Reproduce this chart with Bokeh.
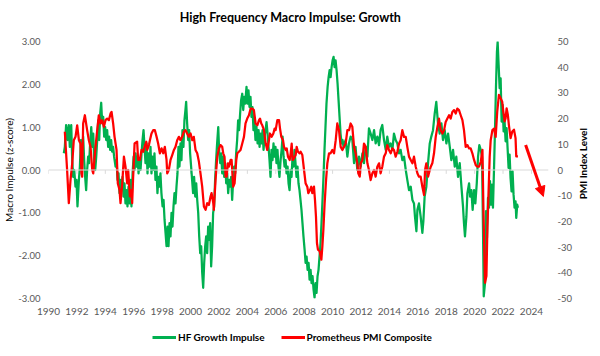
import math
from bokeh.plotting import figure
from bokeh.layouts import column, row
from bokeh.models import (Range1d, LinearAxis, FixedTicker, NumeralTickFormatter, Span,
                          Legend, LegendItem, Arrow, NormalHead, Label)
from bokeh.embed import file_html
from bokeh.resources import INLINE

# ---------------- data ----------------
title_text = "High Frequency Macro Impulse: Growth"
left_axis_title = "Macro Impulse (z-score)"
right_axis_title = "PMI Index Level"
series_names = ["HF Growth Impulse", "Prometheus PMI Composite"]
x_tick_years = [1990, 1992, 1994, 1996, 1998, 2000, 2002, 2004, 2006, 2008, 2010,
                2012, 2014, 2016, 2018, 2020, 2022, 2024]
left_ticks = [-3, -2, -1, 0, 1, 2, 3]
right_ticks = [-50, -40, -30, -20, -10, 0, 10, 20, 30, 40, 50]

hf_years = [
    1991.08, 1991.15, 1991.24, 1991.34, 1991.43, 1991.5, 1991.6, 1991.67, 1991.74, 1991.81,
    1991.9, 1991.97, 1992.04, 1992.14, 1992.21, 1992.28, 1992.37, 1992.44, 1992.51, 1992.58,
    1992.65, 1992.72, 1992.79, 1992.86, 1992.93, 1993.01, 1993.08, 1993.15, 1993.22, 1993.29,
    1993.36, 1993.43, 1993.5, 1993.57, 1993.64, 1993.71, 1993.78, 1993.85, 1993.92, 1993.99,
    1994.06, 1994.13, 1994.2, 1994.27, 1994.34, 1994.41, 1994.48, 1994.55, 1994.62, 1994.72,
    1994.79, 1994.86, 1994.93, 1995.0, 1995.07, 1995.14, 1995.21, 1995.28, 1995.35, 1995.42,
    1995.49, 1995.56, 1995.63, 1995.71, 1995.77, 1995.84, 1995.92, 1995.99, 1996.06, 1996.13,
    1996.2, 1996.27, 1996.34, 1996.41, 1996.48, 1996.55, 1996.62, 1996.69, 1996.76, 1996.83,
    1996.9, 1996.97, 1997.04, 1997.11, 1997.18, 1997.25, 1997.32, 1997.39, 1997.46, 1997.53,
    1997.6, 1997.67, 1997.74, 1997.81, 1997.88, 1997.95, 1998.03, 1998.1, 1998.17, 1998.24,
    1998.31, 1998.38, 1998.45, 1998.52, 1998.59, 1998.66, 1998.73, 1998.8, 1998.87, 1998.94,
    1999.01, 1999.08, 1999.15, 1999.22, 1999.29, 1999.36, 1999.43, 1999.5, 1999.57, 1999.64,
    1999.69, 1999.76, 1999.83, 1999.9, 1999.97, 2000.04, 2000.11, 2000.18, 2000.25, 2000.33,
    2000.4, 2000.47, 2000.54, 2000.61, 2000.68, 2000.75, 2000.82, 2000.89, 2000.96, 2001.03,
    2001.1, 2001.17, 2001.24, 2001.31, 2001.38, 2001.45, 2001.52, 2001.59, 2001.66, 2001.73,
    2001.8, 2001.87, 2001.95, 2002.02, 2002.09, 2002.16, 2002.23, 2002.3, 2002.37, 2002.44,
    2002.51, 2002.58, 2002.65, 2002.72, 2002.79, 2002.86, 2002.93, 2003.0, 2003.07, 2003.14,
    2003.21, 2003.28, 2003.35, 2003.42, 2003.49, 2003.56, 2003.64, 2003.71, 2003.78, 2003.85,
    2003.94, 2004.01, 2004.08, 2004.15, 2004.22, 2004.29, 2004.36, 2004.43, 2004.5, 2004.57,
    2004.64, 2004.72, 2004.79, 2004.86, 2004.93, 2005.0, 2005.07, 2005.14, 2005.21, 2005.28,
    2005.35, 2005.42, 2005.49, 2005.56, 2005.63, 2005.7, 2005.77, 2005.84, 2005.91, 2005.98,
    2006.05, 2006.12, 2006.19, 2006.26, 2006.34, 2006.41, 2006.48, 2006.55, 2006.62, 2006.69,
    2006.76, 2006.83, 2006.9, 2006.97, 2007.04, 2007.11, 2007.18, 2007.25, 2007.32, 2007.39,
    2007.46, 2007.53, 2007.6, 2007.67, 2007.74, 2007.81, 2007.88, 2007.95, 2008.03, 2008.1,
    2008.17, 2008.24, 2008.31, 2008.38, 2008.45, 2008.52, 2008.59, 2008.66, 2008.73, 2008.8,
    2008.87, 2008.94, 2009.01, 2009.08, 2009.15, 2009.22, 2009.29, 2009.36, 2009.43, 2009.5,
    2009.57, 2009.65, 2009.72, 2009.79, 2009.86, 2009.93, 2010.0, 2010.07, 2010.14, 2010.21,
    2010.28, 2010.35, 2010.42, 2010.49, 2010.56, 2010.63, 2010.7, 2010.77, 2010.84, 2010.92,
    2011.04, 2011.15, 2011.27, 2011.39, 2011.51, 2011.62, 2011.74, 2011.86, 2011.98, 2012.1,
    2012.21, 2012.33, 2012.45, 2012.56, 2012.68, 2012.8, 2012.92, 2013.03, 2013.15, 2013.27,
    2013.38, 2013.5, 2013.62, 2013.74, 2013.85, 2013.97, 2014.09, 2014.21, 2014.32, 2014.44,
    2014.56, 2014.68, 2014.79, 2014.91, 2015.03, 2015.15, 2015.26, 2015.38, 2015.5, 2015.62,
    2015.73, 2015.8, 2015.9, 2015.97, 2016.08, 2016.2, 2016.32, 2016.39, 2016.48, 2016.6,
    2016.72, 2016.84, 2016.95, 2017.07, 2017.19, 2017.3, 2017.42, 2017.54, 2017.66, 2017.77,
    2017.89, 2018.01, 2018.13, 2018.25, 2018.36, 2018.48, 2018.6, 2018.71, 2018.83, 2018.95,
    2019.07, 2019.18, 2019.25, 2019.32, 2019.42, 2019.49, 2019.61, 2019.68, 2019.77, 2019.86,
    2019.96, 2020.05, 2020.15, 2020.24, 2020.33, 2020.43, 2020.52, 2020.59, 2020.64, 2020.73,
    2020.8, 2020.87, 2020.94, 2021.01, 2021.08, 2021.15, 2021.22, 2021.29, 2021.36, 2021.43,
    2021.5, 2021.57, 2021.62, 2021.69, 2021.76, 2021.83, 2021.9, 2021.97, 2022.04, 2022.11,
    2022.18, 2022.25, 2022.32, 2022.39, 2022.46, 2022.53, 2022.6, 2022.67, 2022.74, 2022.81,
    2022.88, 2022.93, 2023.0, 2023.05,
]
hf_impulse = [
    0.39, 0.54, 1.05, 0.70, 1.05, 0.54, 1.05, 0.23, -0.16, 0.0,
    -0.39, -0.23, -0.85, -0.23, 0.08, 0.70, 0.54, 0.78, 0.23, -0.16,
    -0.47, 0.0, 0.31, 0.16, 0.62, 1.0, 0.54, 0.85, 0.23, 0.0,
    0.31, 0.70, 1.16, 0.70, 1.32, 1.57, 1.09, 1.24, 0.78, 1.0,
    0.70, 0.93, 0.54, 0.78, 0.47, 0.70, 0.43, 0.54, 0.31, 0.08,
    0.23, -0.23, -0.08, -0.54, -0.23, -0.47, -0.16, -0.62, -0.31, -0.78,
    -0.47, -0.85, -0.39, -0.78, -0.23, -0.85, -0.08, 0.31, 0.0, 0.39,
    0.08, 0.31, -0.08, 0.23, 0.0, 0.39, 0.70, 0.93, 0.54, 0.16,
    0.62, -0.08, 0.39, 0.08, 0.54, -0.08, 0.31, 0.0, 0.39, -0.23,
    0.08, -0.54, -0.16, -0.39, -0.08, -0.54, -0.85, -0.70, -1.16, -1.47,
    -1.78, -1.32, -1.78, -1.24, -1.55, -1.0, -1.32, -0.85, -0.54, -0.78,
    -0.39, -0.08, 0.54, 0.08, 0.62, 0.23, 0.93, 0.54, 1.16, 1.40,
    1.59, 1.09, 0.70, 0.93, 0.39, 0.08, -0.23, -0.54, -0.16, -0.62,
    -0.31, -0.70, -1.0, -1.55, -1.94, -1.78, -2.40, -2.75, -2.17, -1.78,
    -1.55, -1.94, -1.32, -1.63, -1.24, -2.25, -1.78, -1.0, -0.85, -0.23,
    0.23, 0.62, 1.0, 0.39, 0.16, 0.39, -0.08, 0.31, -0.16, 0.16,
    -0.31, -0.08, -0.54, -0.23, -0.39, -0.16, -0.70, -0.23, 0.08, -0.08,
    0.39, 0.70, 1.16, 0.93, 1.32, 1.63, 1.78, 1.40, 1.71, 1.55,
    1.94, 1.55, 1.86, 1.47, 1.71, 1.24, 1.47, 0.93, 1.16, 0.70,
    1.01, 0.62, 0.93, 0.54, 0.85, 0.62, 0.93, 0.47, 0.78, 0.93,
    1.12, 0.85, 0.54, 0.23, -0.16, 0.47, 0.23, 0.62, 0.31, 0.54,
    0.16, 0.47, 0.08, -0.16, 0.23, 0.47, 0.78, 0.31, 0.08, 0.23,
    -0.08, 0.08, -0.31, -0.47, 0.0, -0.16, 0.31, 0.08, 0.47, 0.16,
    -0.16, 0.08, -0.31, -0.47, -0.70, -0.93, -1.24, -1.55, -1.86, -2.17,
    -2.02, -2.33, -2.17, -2.56, -2.33, -2.64, -2.48, -2.79, -2.98, -2.64,
    -2.87, -2.48, -2.33, -2.02, -1.71, -1.24, -0.70, -0.16, 0.47, 1.01,
    1.55, 1.94, 2.17, 2.33, 2.17, 2.40, 2.56, 2.64, 2.40, 2.56,
    2.33, 2.02, 1.63, 1.24, 0.85, 0.62, 0.70, 0.54, 0.62, 0.70,
    0.31, 0.62, 0.78, 0.70, 0.16, 0.54, 0.0, 0.31, 0.08, 0.39,
    0.16, 0.54, 0.31, 0.97, 0.85, 0.70, 0.93, 0.62, 0.78, 0.58,
    0.93, 1.05, 0.70, 0.47, 0.78, 0.54, 0.62, 0.47, 0.85, 0.70,
    0.62, 0.39, 0.47, 0.23, 0.31, 0.0, -0.23, -0.47, -0.39, -0.70,
    -0.78, -1.09, -1.43, -0.93, -0.78, -1.09, -1.47, -1.20, -0.62, -0.39,
    0.16, 0.62, 0.78, 0.93, 1.32, 1.59, 1.09, 0.85, 1.09, 0.70,
    0.93, 0.62, 0.85, 0.54, 0.23, 0.47, 0.08, 0.31, -0.16, 0.16,
    -0.39, -0.85, -1.24, -1.55, -1.09, -0.54, -0.31, -0.62, -0.47, -0.93,
    -0.47, -0.78, -0.31, 0.31, 0.58, 0.47, 0.31, -1.40, -2.95, -2.64,
    -0.96, -1.58, -0.65, -0.88, -0.26, -0.81, -0.34, -0.88, -0.03, 0.90,
    1.91, 2.76, 2.99, 2.45, 1.91, 2.14, 1.13, 1.52, 0.90, 1.13,
    0.67, 0.98, 0.51, 0.05, 0.36, -0.19, -0.50, -0.03, -0.57, -0.88,
    -0.73, -1.12, -0.81, -0.88,
]

pmi_years = [
    1991.15, 1991.31, 1991.43, 1991.55, 1991.67, 1991.78, 1991.9, 1992.02, 1992.14, 1992.25,
    1992.32, 1992.37, 1992.44, 1992.56, 1992.72, 1992.84, 1992.96, 1993.08, 1993.15, 1993.31,
    1993.43, 1993.54, 1993.66, 1993.78, 1993.9, 1994.01, 1994.13, 1994.25, 1994.37, 1994.44,
    1994.55, 1994.65, 1994.79, 1994.88, 1995.0, 1995.07, 1995.19, 1995.31, 1995.42, 1995.54,
    1995.61, 1995.73, 1995.82, 1995.89, 1995.96, 1996.06, 1996.24, 1996.31, 1996.43, 1996.55,
    1996.67, 1996.76, 1996.88, 1996.95, 1997.07, 1997.14, 1997.25, 1997.37, 1997.49, 1997.61,
    1997.72, 1997.84, 1997.96, 1998.08, 1998.19, 1998.31, 1998.36, 1998.47, 1998.59, 1998.71,
    1998.83, 1998.94, 1999.06, 1999.18, 1999.29, 1999.41, 1999.53, 1999.65, 1999.76, 1999.88,
    2000.0, 2000.12, 2000.23, 2000.35, 2000.47, 2000.59, 2000.7, 2000.82, 2000.94, 2001.06,
    2001.17, 2001.29, 2001.41, 2001.48, 2001.6, 2001.64, 2001.76, 2001.88, 2002.0, 2002.11,
    2002.23, 2002.3, 2002.39, 2002.47, 2002.54, 2002.63, 2002.7, 2002.82, 2002.89, 2003.0,
    2003.1, 2003.22, 2003.29, 2003.4, 2003.52, 2003.64, 2003.76, 2003.87, 2003.99, 2004.11,
    2004.23, 2004.35, 2004.46, 2004.58, 2004.7, 2004.82, 2004.89, 2004.98, 2005.05, 2005.17,
    2005.29, 2005.4, 2005.52, 2005.59, 2005.71, 2005.83, 2005.92, 2005.99, 2006.11, 2006.23,
    2006.3, 2006.39, 2006.51, 2006.58, 2006.7, 2006.77, 2006.86, 2006.98, 2007.05, 2007.12,
    2007.19, 2007.28, 2007.4, 2007.47, 2007.56, 2007.68, 2007.75, 2007.87, 2007.99, 2008.1,
    2008.22, 2008.29, 2008.41, 2008.5, 2008.57, 2008.69, 2008.76, 2008.83, 2008.9, 2008.97,
    2009.09, 2009.21, 2009.28, 2009.35, 2009.44, 2009.54, 2009.63, 2009.75, 2009.86, 2009.98,
    2010.1, 2010.22, 2010.33, 2010.45, 2010.57, 2010.69, 2010.8, 2010.92, 2011.04, 2011.16,
    2011.27, 2011.39, 2011.51, 2011.62, 2011.74, 2011.81, 2011.91, 2011.98, 2012.1, 2012.21,
    2012.33, 2012.45, 2012.56, 2012.68, 2012.8, 2012.92, 2013.03, 2013.15, 2013.27, 2013.38,
    2013.5, 2013.62, 2013.74, 2013.85, 2013.97, 2014.09, 2014.21, 2014.32, 2014.44, 2014.56,
    2014.68, 2014.79, 2014.91, 2015.03, 2015.15, 2015.26, 2015.38, 2015.5, 2015.62, 2015.73,
    2015.85, 2015.97, 2016.08, 2016.2, 2016.32, 2016.44, 2016.51, 2016.6, 2016.72, 2016.84,
    2016.91, 2017.02, 2017.14, 2017.26, 2017.38, 2017.49, 2017.61, 2017.73, 2017.85, 2017.96,
    2018.08, 2018.2, 2018.31, 2018.43, 2018.55, 2018.67, 2018.78, 2018.9, 2019.02, 2019.14,
    2019.25, 2019.37, 2019.49, 2019.61, 2019.72, 2019.84, 2019.96, 2020.08, 2020.19, 2020.31,
    2020.43, 2020.55, 2020.62, 2020.66, 2020.73, 2020.83, 2020.9, 2020.97, 2021.06, 2021.13,
    2021.25, 2021.37, 2021.48, 2021.59, 2021.71, 2021.83, 2021.94, 2022.02, 2022.11, 2022.18,
    2022.25, 2022.34, 2022.41, 2022.53, 2022.65, 2022.77, 2022.88, 2022.93, 2023.05,
]
pmi_composite = [
    14.9, 0.0, -12.9, -3.9, 2.6, 11.6, 12.9, 17.4, 11.6, 10.3,
    -1.3, -2.6, 18.1, 21.3, 15.5, 11.6, 9.0, 0.0, -1.3, 9.0,
    15.5, 21.3, 18.1, 19.4, 16.8, 19.4, 20.0, 19.4, 22.0, 22.6,
    18.1, 12.9, 7.8, -5.2, -7.8, -12.9, -5.2, 5.2, 1.3, -5.2,
    0.0, -10.3, -7.8, -12.9, -2.6, 10.3, 11.0, 3.9, 3.9, 7.8,
    7.1, 9.0, 11.0, 7.8, 9.7, 11.6, 14.2, 15.5, 15.5, 12.9,
    10.3, 6.5, 8.4, 6.5, 9.0, 3.9, -1.3, 0.0, 3.9, 5.8,
    7.8, 9.0, 11.6, 12.9, 11.6, 12.9, 14.9, 15.5, 14.2, 12.9,
    14.2, 11.6, 12.9, 7.8, 6.5, 3.2, -1.3, -6.5, -14.2, -15.5,
    -12.9, -13.6, -10.3, -9.0, -12.9, -15.5, -3.9, 5.2, 8.4, 9.7,
    9.0, 6.5, 5.2, -2.6, -2.6, 2.6, 1.3, 3.9, 3.9, -6.5,
    -5.2, 3.9, 6.5, 7.1, 7.8, 10.3, 12.9, 18.1, 20.0, 21.3,
    23.9, 23.9, 23.3, 18.1, 17.4, 19.4, 20.0, 18.1, 17.4, 15.5,
    10.3, 7.8, 11.6, 14.2, 12.9, 14.2, 16.1, 15.5, 19.4, 19.4,
    16.1, 12.9, 11.6, 9.0, 7.8, 8.4, 5.2, 3.9, 6.5, 10.3,
    3.9, 4.5, 5.8, 9.0, 7.1, 6.5, 7.1, 5.8, 0.0, -5.2,
    -6.5, -9.0, -7.8, -6.5, -9.0, -6.5, -11.6, -18.1, -28.4, -31.0,
    -31.6, -34.9, -29.7, -23.3, -12.9, -3.9, 2.6, 6.5, 6.5, 7.8,
    6.5, 11.6, 18.1, 15.5, 9.0, 7.8, 9.0, 10.3, 15.5, 15.5,
    18.1, 16.8, 9.0, 6.5, 2.6, -1.3, -2.6, 2.6, 3.9, 10.3,
    9.0, 2.6, 0.0, -3.9, -1.3, 0.0, -2.6, 1.3, 2.6, -1.3,
    1.3, 5.2, 6.5, 9.7, 7.8, 6.5, 8.4, 7.8, 5.2, 7.1,
    10.3, 11.6, 15.5, 12.9, 12.9, 9.0, 5.2, 3.9, 2.6, 5.2,
    1.3, -1.3, -2.6, -2.6, -6.5, -9.7, 0.0, 2.6, -2.6, 0.0,
    1.3, 2.6, 6.5, 12.9, 16.8, 20.0, 15.5, 14.2, 15.5, 18.7,
    20.0, 21.3, 20.0, 22.6, 23.3, 22.0, 23.9, 23.3, 21.3, 19.4,
    15.5, 9.0, 9.7, 8.4, 8.4, 6.5, 3.9, 1.9, 1.3, 1.3,
    3.2, 7.8, -15.5, -25.8, -43.9, -41.3, -22.0, -10.3, 5.2, 11.6,
    15.5, 16.1, 12.9, 22.7, 29.2, 27.9, 26.6, 22.7, 18.9, 20.2,
    24.0, 21.4, 17.6, 12.4, 15.0, 15.7, 12.4, 5.3, 5.3,
]

# annotation arrow (year, PMI level)
arrow_start = (2023.59, 9.7)
arrow_end = (2024.84, -10.3)

GREEN = "#00B050"
RED = "#FF0000"
FONT = "Lato"
NAN = float("nan")


def strip(width, height, x_end, y_end):
    f = figure(width=width, height=height, output_backend="svg", toolbar_location=None,
               x_axis_type=None, y_axis_type=None, min_border=0,
               x_range=Range1d(0, x_end), y_range=Range1d(0, y_end))
    f.outline_line_color = None
    f.background_fill_color = "white"
    f.border_fill_color = "white"
    return f


# ---- title strip ----
tt = strip(584, 33, 584, 33)
tt.add_layout(Label(x=290, y=16, text=title_text, text_align="center",
                    text_baseline="middle", text_font=FONT, text_font_size="12.5px",
                    text_font_style="bold", text_color="#000000"))

# ---- main chart ----
p = figure(frame_width=500, frame_height=257, output_backend="svg", toolbar_location=None,
           x_range=Range1d(1990, 2025.2), y_range=Range1d(-3, 3),
           min_border_left=40, min_border_right=0, min_border_top=8,
           min_border_bottom=22)
p.extra_y_ranges = {"pmi": Range1d(-50, 50)}
p.xgrid.visible = False
p.ygrid.visible = False
p.outline_line_color = None
p.background_fill_color = "white"
p.border_fill_color = "white"


def plain_axis(ax):
    ax.axis_line_color = None
    ax.major_tick_line_color = None
    ax.minor_tick_line_color = None
    ax.major_tick_out = 0
    ax.major_tick_in = 0
    ax.minor_tick_out = 0
    ax.minor_tick_in = 0
    ax.major_label_text_font = FONT
    ax.major_label_text_color = "#595959"


xa = p.xaxis[0]
plain_axis(xa)
xa.ticker = FixedTicker(ticks=x_tick_years)
xa.formatter = NumeralTickFormatter(format="0")
xa.major_label_text_font_size = "10px"
xa.major_label_standoff = 9

ya = p.yaxis[0]
plain_axis(ya)
ya.ticker = FixedTicker(ticks=left_ticks)
ya.formatter = NumeralTickFormatter(format="0.00")
ya.major_label_text_font_size = "9.5px"
ya.major_label_standoff = 8
ya.axis_label = left_axis_title
ya.axis_label_text_font = FONT
ya.axis_label_text_font_size = "10px"
ya.axis_label_text_font_style = "normal"
ya.axis_label_text_color = "#000000"
ya.axis_label_standoff = 0

ra = LinearAxis(y_range_name="pmi")
plain_axis(ra)
ra.ticker = FixedTicker(ticks=right_ticks)
ra.formatter = NumeralTickFormatter(format="0")
ra.major_label_text_font_size = "9.5px"
ra.major_label_standoff = 9
p.add_layout(ra, "right")

# zero line with small tick marks (horizontal axis crossing at zero)
p.add_layout(Span(location=0, dimension="width", line_color="#D9D9D9", line_width=1))
p.segment(x0=x_tick_years, y0=[0] * len(x_tick_years), x1=x_tick_years,
          y1=[-0.09] * len(x_tick_years), line_color="#D9D9D9", line_width=1)

g = p.line(hf_years, hf_impulse, line_color=GREEN, line_width=2.25, line_join="round")
r = p.line(pmi_years, pmi_composite, line_color=RED, line_width=2.25, line_join="round",
           y_range_name="pmi")

p.add_layout(Arrow(end=NormalHead(size=10, fill_color=RED, line_color=RED),
                   x_start=arrow_start[0], y_start=arrow_start[1],
                   x_end=arrow_end[0], y_end=arrow_end[1],
                   line_color=RED, line_width=3, y_range_name="pmi"))

# ---- right axis title strip (text reads bottom-to-top) ----
tf = strip(20, 287, 20, 287)
tf.add_layout(Label(x=7, y=150.5, text=right_axis_title, angle=math.pi / 2,
                    text_align="center", text_baseline="middle", text_font=FONT,
                    text_font_size="10px", text_font_style="bold", text_color="#000000"))

# ---- legend strip ----
lf = strip(584, 36, 1, 1)
lg = lf.line(x=[NAN], y=[NAN], line_color=GREEN, line_width=3)
lr = lf.line(x=[NAN], y=[NAN], line_color=RED, line_width=3)
legend = Legend(items=[LegendItem(label=series_names[0], renderers=[lg]),
                       LegendItem(label=series_names[1], renderers=[lr])],
                orientation="horizontal", location=(152, 13))
legend.label_text_font = FONT
legend.label_text_font_size = "10px"
legend.label_text_font_style = "bold"
legend.label_text_color = "#000000"
legend.glyph_width = 24
legend.glyph_height = 12
legend.label_height = 12
legend.label_standoff = 2
legend.spacing = 16
legend.padding = 4
legend.margin = 0
legend.border_line_color = None
legend.background_fill_alpha = 0
lf.add_layout(legend, "center")

layout = column(tt, row(p, tf, spacing=0), lf, spacing=0)
open("out.html", "w").write(file_html(layout, INLINE))
